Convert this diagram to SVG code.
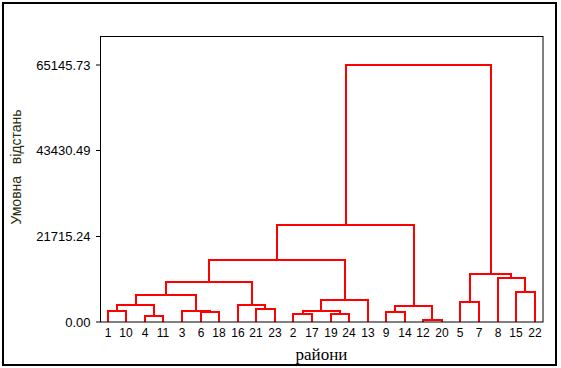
<svg xmlns="http://www.w3.org/2000/svg" width="561" height="368" viewBox="0 0 561 368">
<style>
.frame{fill:none;stroke:#000;stroke-width:1}
.outer{fill:none;stroke:#000;stroke-width:2}
.tick{stroke:#000;stroke-width:1}
.link{fill:none;stroke:#ff0000;stroke-width:2;stroke-linejoin:miter}
.tl{font-family:"Liberation Sans",Arial,sans-serif;font-size:13px;fill:#000;text-anchor:end}
.leaf{font-family:"Liberation Sans",Arial,sans-serif;font-size:12px;fill:#000;text-anchor:middle}
.ax{font-family:"Liberation Serif","Times New Roman",serif;font-size:17px;fill:#000;text-anchor:middle}
.yl{font-family:"Liberation Sans",Arial,sans-serif;font-size:14px;fill:#2b2b10;text-anchor:middle;white-space:pre}
</style>
<rect x="0" y="0" width="561" height="368" fill="#fff"/>
<rect class="outer" x="3" y="3" width="553" height="362"/>
<g id="connectors">
<path class="link" d="M108 322V311H126V322"/>
<path class="link" d="M145 322V316H163V322"/>
<path class="link" d="M117 311V305H154V316"/>
<path class="link" d="M201 322V312H219V322"/>
<path class="link" d="M182 322V311H210V312"/>
<path class="link" d="M136 305V295H196V311"/>
<path class="link" d="M256 322V309H275V322"/>
<path class="link" d="M238 322V305H265V309"/>
<path class="link" d="M166 295V282H252V305"/>
<path class="link" d="M293 322V314H312V322"/>
<path class="link" d="M331 322V314H349V322"/>
<path class="link" d="M303 314V311H340V314"/>
<path class="link" d="M321 311V300H368V322"/>
<path class="link" d="M209 282V260H345V300"/>
<path class="link" d="M386 322V312H405V322"/>
<path class="link" d="M423 322V320H442V322"/>
<path class="link" d="M395 312V306H432V320"/>
<path class="link" d="M277 260V225H414V306"/>
<path class="link" d="M460 322V302H479V322"/>
<path class="link" d="M516 322V292H535V322"/>
<path class="link" d="M498 322V278H525V292"/>
<path class="link" d="M470 302V274H511V278"/>
<path class="link" d="M346 225V65H491V274"/>
</g>
<g id="axes">
<rect class="frame" x="100.5" y="36.5" width="442.5" height="285.5"/>
<line class="tick" x1="96" y1="322" x2="100" y2="322"/>
<line class="tick" x1="96" y1="236.5" x2="100" y2="236.5"/>
<line class="tick" x1="96" y1="150.5" x2="100" y2="150.5"/>
<line class="tick" x1="96" y1="65" x2="100" y2="65"/>
<text class="tl" x="90.5" y="326.5">0.00</text>
<text class="tl" x="90.5" y="241">21715.24</text>
<text class="tl" x="90.5" y="155">43430.49</text>
<text class="tl" x="90.5" y="69.5">65145.73</text>
<text class="yl" transform="translate(21,167) rotate(-90)" xml:space="preserve">Умовна   відстань</text>
<text class="ax" x="321.5" y="360">райони</text>
</g>
<g id="leaf-1"><text class="leaf" x="108" y="337">1</text></g>
<g id="leaf-10"><text class="leaf" x="126" y="337">10</text></g>
<g id="leaf-4"><text class="leaf" x="145" y="337">4</text></g>
<g id="leaf-11"><text class="leaf" x="163" y="337">11</text></g>
<g id="leaf-3"><text class="leaf" x="182" y="337">3</text></g>
<g id="leaf-6"><text class="leaf" x="201" y="337">6</text></g>
<g id="leaf-18"><text class="leaf" x="219" y="337">18</text></g>
<g id="leaf-16"><text class="leaf" x="238" y="337">16</text></g>
<g id="leaf-21"><text class="leaf" x="256" y="337">21</text></g>
<g id="leaf-23"><text class="leaf" x="275" y="337">23</text></g>
<g id="leaf-2"><text class="leaf" x="293" y="337">2</text></g>
<g id="leaf-17"><text class="leaf" x="312" y="337">17</text></g>
<g id="leaf-19"><text class="leaf" x="331" y="337">19</text></g>
<g id="leaf-24"><text class="leaf" x="349" y="337">24</text></g>
<g id="leaf-13"><text class="leaf" x="368" y="337">13</text></g>
<g id="leaf-9"><text class="leaf" x="386" y="337">9</text></g>
<g id="leaf-14"><text class="leaf" x="405" y="337">14</text></g>
<g id="leaf-12"><text class="leaf" x="423" y="337">12</text></g>
<g id="leaf-20"><text class="leaf" x="442" y="337">20</text></g>
<g id="leaf-5"><text class="leaf" x="460" y="337">5</text></g>
<g id="leaf-7"><text class="leaf" x="479" y="337">7</text></g>
<g id="leaf-8"><text class="leaf" x="498" y="337">8</text></g>
<g id="leaf-15"><text class="leaf" x="516" y="337">15</text></g>
<g id="leaf-22"><text class="leaf" x="535" y="337">22</text></g>
</svg>
